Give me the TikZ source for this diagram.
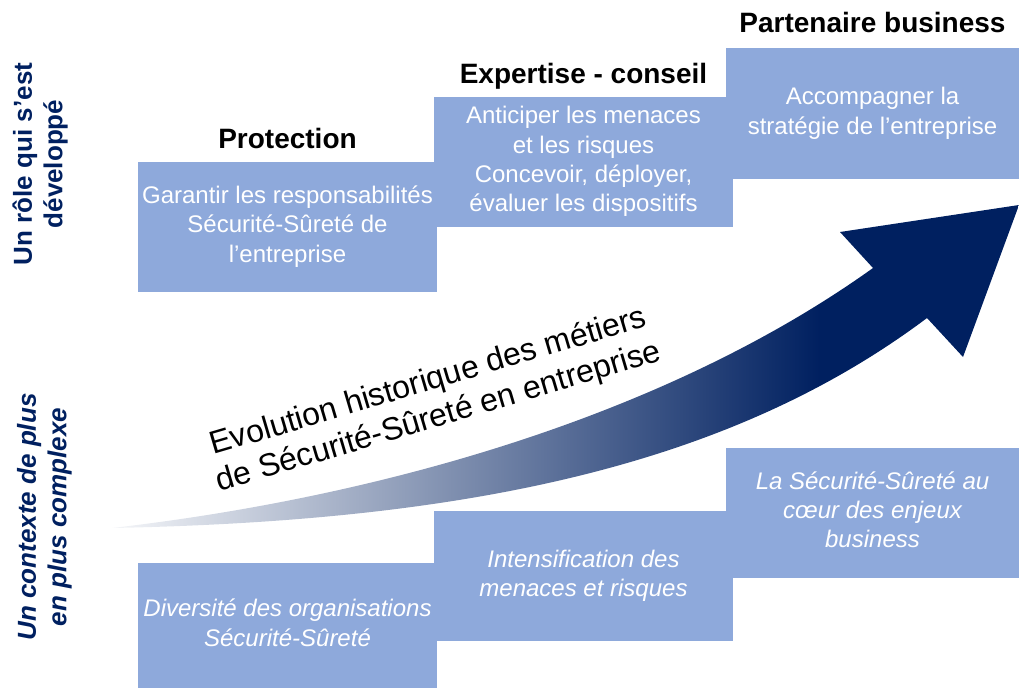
\documentclass[tikz,border=0pt]{standalone}
\usepackage{fontspec}
\setmainfont{Liberation Sans}
\usetikzlibrary{positioning}

\definecolor{boxblue}{RGB}{142,169,219}
\definecolor{deepnavy}{RGB}{0,32,96}
\pgfdeclarehorizontalshading{arrowfade}{100bp}{color(0bp)=(white); color(25bp)=(deepnavy!4); color(64bp)=(deepnavy); color(100bp)=(deepnavy)}
\setlength{\tabcolsep}{0pt}

\begin{document}
\begin{tikzpicture}[x=0.75pt, y=-0.75pt,
    rolebox/.style={fill=boxblue, text=white, inner sep=0pt, minimum width=224pt, minimum height=97.5pt, font=\fontsize{18}{22}\selectfont},
    ctxbox/.style={rolebox, font=\fontsize{18}{22}\selectfont\itshape},
    stage/.style={font=\fontsize{21}{25}\selectfont\bfseries, inner sep=0pt},
    sidelabel/.style={text=deepnavy, rotate=90, inner sep=0pt, font=\fontsize{19.5}{23}\selectfont\bfseries}]
  \useasboundingbox (0,0) rectangle (1019,688);

  % the three roles, stepping up
  \node[rolebox] (prot) at (287.5,227) {
    \begin{tabular}{c}
      Garantir les responsabilités \\
      Sécurité-Sûreté de \\
      l’entreprise
    \end{tabular}
  };
  \node[rolebox] (expert) at (583.5,162) {
    \begin{tabular}{c}
      Anticiper les menaces \\
      et les risques \\
      Concevoir, déployer, \\
      évaluer les dispositifs
    \end{tabular}
  };
  \node[rolebox, minimum width=220pt] (partner) at (872.5,113.5) {
    \begin{tabular}{c}
      Accompagner la \\
      stratégie de l’entreprise
    \end{tabular}
  };
  \node[stage, above=10pt of prot, anchor=base] (protT) {Protection};
  \node[stage, above=10pt of expert, anchor=base] (expertT) {Expertise - conseil};
  \node[stage, above=12pt of partner, anchor=base] (partnerT) {Partenaire business};

  % the context, stepping up too
  \node[ctxbox, minimum height=93.75pt] (divers) at (287.5,625.5) {
    \begin{tabular}{c}
      Diversité des organisations \\
      Sécurité-Sûreté
    \end{tabular}
  };
  \node[ctxbox] (threat) at (583.5,576) {
    \begin{tabular}{c}
      Intensification des \\
      menaces et risques
    \end{tabular}
  };
  \node[ctxbox, minimum width=220pt] (stake) at (872.5,512.5) {
    \begin{tabular}{c}
      La Sécurité-Sûreté au \\
      cœur des enjeux \\
      business
    \end{tabular}
  };

  \node[sidelabel] (role) at (41,164) {
    \begin{tabular}{c}
      Un rôle qui s’est \\
      développé
    \end{tabular}
  };
  \node[sidelabel, font=\fontsize{19.5}{23}\selectfont\bfseries\itshape] (context) at (45,517) {
    \begin{tabular}{c}
      Un contexte de plus \\
      en plus complexe
    \end{tabular}
  };

  % big fading arrow
  \shade[shading=arrowfade] (112,528) .. controls (390,496) and (672,412) .. (873,268)
    -- (840,232) -- (1019,205) -- (963,357) -- (927,318)
    .. controls (727,468) and (462,521) .. (112,528) -- cycle;
  \node[rotate=16.5, inner sep=0pt, font=\fontsize{24}{27.75}\selectfont] (evol) at (434,401) {
    \begin{tabular}{c}
      Evolution historique des métiers \\
      de Sécurité-Sûreté en entreprise
    \end{tabular}
  };
\end{tikzpicture}
\end{document}
